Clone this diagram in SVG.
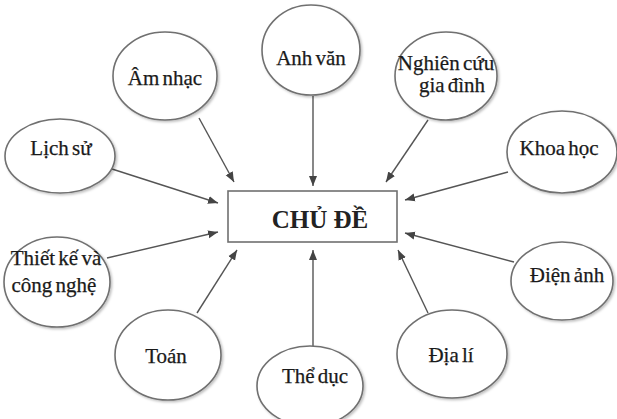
<svg xmlns="http://www.w3.org/2000/svg" width="617" height="419" viewBox="0 0 617 419">
<defs>
<marker id="ah" viewBox="0 0 10 10" refX="10" refY="5" markerWidth="10" markerHeight="10" markerUnits="userSpaceOnUse" orient="auto">
<path d="M0,1 L10,5 L0,9 z" fill="#444"/>
</marker>
<filter id="sh" x="-10%" y="-10%" width="130%" height="130%">
<feDropShadow dx="1.5" dy="1.5" stdDeviation="1.2" flood-color="#000" flood-opacity="0.25"/>
</filter>
</defs>
<style>
.n ellipse{fill:#fff;stroke:#707070;stroke-width:1.6;filter:url(#sh)}
.n text{font-size:21px;fill:#1a1a1a;stroke:#1a1a1a;stroke-width:0.25;text-anchor:middle;word-spacing:-2px}
#edges line{stroke:#555;stroke-width:1.4;marker-end:url(#ah)}
</style>
<rect width="617" height="419" fill="#fff"/>
<g id="edges">
<line x1="112" y1="169" x2="218" y2="203"/>
<line x1="107" y1="258" x2="218" y2="232"/>
<line x1="199" y1="118" x2="234" y2="182"/>
<line x1="197" y1="313" x2="237" y2="250"/>
<line x1="313" y1="96" x2="313" y2="186"/>
<line x1="313" y1="346" x2="313" y2="250"/>
<line x1="428" y1="120" x2="386" y2="182"/>
<line x1="508" y1="172" x2="405" y2="200"/>
<line x1="514" y1="262" x2="405" y2="233"/>
<line x1="428" y1="313" x2="398" y2="250"/>
</g>
<g id="center">
<rect x="228" y="191" width="169" height="51" fill="#fff" stroke="#707070" stroke-width="1.6"/>
<text x="320" y="228" font-family="Liberation Serif, Times New Roman, serif" font-size="25" font-weight="bold" fill="#222" text-anchor="middle">CHỦ ĐỀ</text>
</g>
<g font-family="Liberation Serif, Times New Roman, serif">
<g id="am-nhac" class="n"><ellipse cx="165" cy="76" rx="52" ry="44"/><text x="165" y="85">Âm nhạc</text></g>
<g id="anh-van" class="n"><ellipse cx="311" cy="50" rx="49" ry="45"/><text x="311" y="65">Anh văn</text></g>
<g id="nghien-cuu" class="n"><ellipse cx="446" cy="76" rx="51" ry="44"/><text x="446" y="70">Nghiên cứu</text><text x="452" y="92">gia đình</text></g>
<g id="lich-su" class="n"><ellipse cx="60" cy="156" rx="55" ry="37"/><text x="61" y="155">Lịch sử</text></g>
<g id="khoa-hoc" class="n"><ellipse cx="562" cy="152" rx="55" ry="41"/><text x="559" y="155">Khoa học</text></g>
<g id="thiet-ke" class="n"><ellipse cx="57" cy="282" rx="53" ry="45"/><text x="56" y="265">Thiết kế và</text><text x="54" y="292">công nghệ</text></g>
<g id="dien-anh" class="n"><ellipse cx="562" cy="281" rx="51" ry="39"/><text x="567" y="282">Điện ảnh</text></g>
<g id="toan" class="n"><ellipse cx="168" cy="355" rx="53" ry="45"/><text x="166" y="363">Toán</text></g>
<g id="the-duc" class="n"><ellipse cx="310" cy="386" rx="53" ry="40"/><text x="315" y="383">Thể dục</text></g>
<g id="dia-li" class="n"><ellipse cx="452" cy="354" rx="55" ry="44"/><text x="451" y="362">Địa lí</text></g>
</g>
</svg>
